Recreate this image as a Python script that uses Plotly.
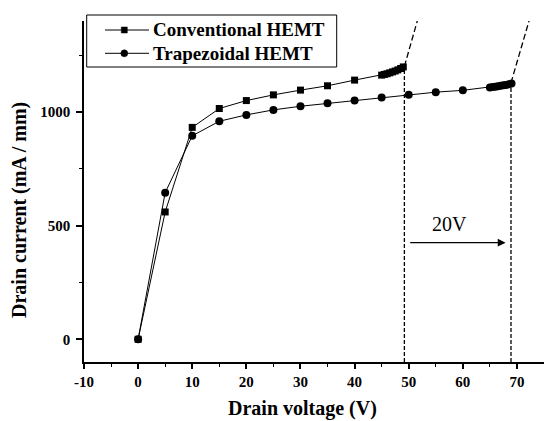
import plotly.graph_objects as go

# ---- data ----
conv_v = [0, 5, 10, 15, 20, 25, 30, 35, 40, 45, 45.5, 46, 46.5, 47, 47.5, 48, 48.5, 49]
conv_i = [0, 560, 932, 1015, 1050, 1075, 1096, 1115, 1140, 1162, 1165, 1168, 1172, 1176, 1180, 1185, 1191, 1198]

trap_v = [0, 5, 10, 15, 20, 25, 30, 35, 40, 45, 50, 55, 60, 65, 65.5, 66, 66.5, 67, 67.5, 68, 68.5, 69]
trap_i = [0, 645, 895, 959, 987, 1009, 1025, 1038, 1050, 1063, 1076, 1087, 1095, 1108, 1110, 1111, 1113, 1115, 1117, 1119, 1122, 1125]

series_names = ["Conventional HEMT", "Trapezoidal HEMT"]

# breakdown guide lines
conv_bd_v = [49.2, 51.7]
conv_bd_i = [1200, 1410]
trap_bd_v = [68.9, 72.4]
trap_bd_i = [1128, 1414]

# vertical markers at breakdown voltages
vline_conv_v = [49.2, 49.2]
vline_conv_i = [-100, 1195]
vline_trap_v = [68.9, 68.9]
vline_trap_i = [-100, 1125]

arrow_start = 50.0
arrow_end = 67.9
arrow_y = 425
label_20v = "20V"
label_x, label_y = 57.5, 505

x_ticks = [-10, 0, 10, 20, 30, 40, 50, 60, 70]
y_ticks = [0, 500, 1000]

FONT = "Liberation Serif"

# plot-area geometry (pixels) used to place the hand-built legend
W, H = 544, 421
ML, MR, MT, MB = 84, 0, 21, 59
PW, PH = W - ML - MR, H - MT - MB


def px(x):
    return (x - ML) / PW


def py(y):
    return (H - MB - y) / PH


fig = go.Figure()

fig.add_trace(go.Scatter(
    x=conv_v, y=conv_i, mode="lines+markers", name=series_names[0], showlegend=False,
    line=dict(color="black", width=1),
    marker=dict(symbol="square", size=7, color="black"),
))
fig.add_trace(go.Scatter(
    x=trap_v, y=trap_i, mode="lines+markers", name=series_names[1], showlegend=False,
    line=dict(color="black", width=1),
    marker=dict(symbol="circle", size=8, color="black"),
))

for xs, ys, dash in [
    (vline_conv_v, vline_conv_i, "4px,2px"),
    (vline_trap_v, vline_trap_i, "4px,2px"),
    (conv_bd_v, conv_bd_i, "6px,3px"),
    (trap_bd_v, trap_bd_i, "6px,3px"),
]:
    fig.add_trace(go.Scatter(
        x=xs, y=ys, mode="lines", showlegend=False, hoverinfo="skip",
        line=dict(color="black", width=1.3, dash=dash),
    ))

fig.add_annotation(
    x=arrow_end, y=arrow_y, ax=arrow_start, ay=arrow_y,
    xref="x", yref="y", axref="x", ayref="y",
    text="", showarrow=True, arrowhead=2, arrowsize=1.2, arrowwidth=1.3,
    arrowcolor="black",
)
fig.add_annotation(
    x=label_x, y=label_y, xref="x", yref="y", text=label_20v, showarrow=False,
    font=dict(family=FONT, size=20, color="black"),
)

# axis titles
fig.add_annotation(
    x=px(302), y=py(409), xref="paper", yref="paper", text="Drain voltage (V)",
    showarrow=False, xanchor="center", yanchor="middle",
    font=dict(family=FONT, size=20, color="black", weight="bold"),
)
fig.add_annotation(
    x=px(20), y=py(210), xref="paper", yref="paper", text="Drain current (mA / mm)",
    showarrow=False, xanchor="center", yanchor="middle", textangle=-90,
    font=dict(family=FONT, size=20, color="black", weight="bold"),
)

# ---- legend (box, symbols, labels) ----
shapes = [
    dict(type="rect", xref="paper", yref="paper",
         x0=px(86.7), x1=px(336.7), y0=py(67), y1=py(15),
         line=dict(color="black", width=1), fillcolor="white", layer="above"),
]
rows = [30, 53.3]
for row_y, sym in zip(rows, ["square", "circle"]):
    shapes.append(dict(type="line", xref="paper", yref="paper",
                       x0=px(105), x1=px(149), y0=py(row_y), y1=py(row_y),
                       line=dict(color="black", width=1), layer="above"))
    if sym == "square":
        shapes.append(dict(type="rect", xref="paper", yref="paper",
                           x0=px(121.3), x1=px(127.3), y0=py(row_y + 3), y1=py(row_y - 3),
                           line=dict(color="black", width=0.5), fillcolor="black", layer="above"))
    else:
        shapes.append(dict(type="circle", xref="paper", yref="paper",
                           x0=px(120.8), x1=px(127.8), y0=py(row_y + 3.5), y1=py(row_y - 3.5),
                           line=dict(color="black", width=0.5), fillcolor="black", layer="above"))
for row_y, name in zip(rows, series_names):
    fig.add_annotation(
        x=px(151), y=py(row_y), xref="paper", yref="paper", text=name,
        showarrow=False, xanchor="left", yanchor="middle",
        font=dict(family=FONT, size=19, color="black", weight="bold"),
    )

fig.update_layout(
    width=W, height=H,
    margin=dict(l=ML, r=MR, t=MT, b=MB),
    paper_bgcolor="white", plot_bgcolor="white",
    font=dict(family=FONT, color="black"),
    showlegend=False,
    shapes=shapes,
    xaxis=dict(
        range=[-10, 75], showgrid=False, zeroline=False,
        showline=True, linecolor="black", linewidth=2,
        tickmode="array", tickvals=x_ticks, ticktext=[str(t) for t in x_ticks],
        ticks="outside", ticklen=5, tickwidth=1.5, tickcolor="black",
        minor=dict(dtick=5, tick0=-5, ticks="outside", ticklen=3, tickwidth=1.2, tickcolor="black"),
        tickfont=dict(family=FONT, size=15, color="black", weight="bold"),
        ticklabelstandoff=0,
    ),
    yaxis=dict(
        range=[-100, 1400], showgrid=False, zeroline=False,
        showline=True, linecolor="black", linewidth=1.5,
        tickmode="array", tickvals=y_ticks, ticktext=[str(t) for t in y_ticks],
        ticks="outside", ticklen=6, tickwidth=1.5, tickcolor="black",
        minor=dict(tickvals=[250, 750, 1250], ticks="outside", ticklen=3, tickwidth=1.2, tickcolor="black"),
        tickfont=dict(family=FONT, size=15, color="black", weight="bold"),
        ticklabelstandoff=3,
    ),
)

fig.write_html(
    "out.html",
    config={"displayModeBar": False},
    post_script="document.body.style.margin='0';document.body.style.overflow='hidden';",
)
